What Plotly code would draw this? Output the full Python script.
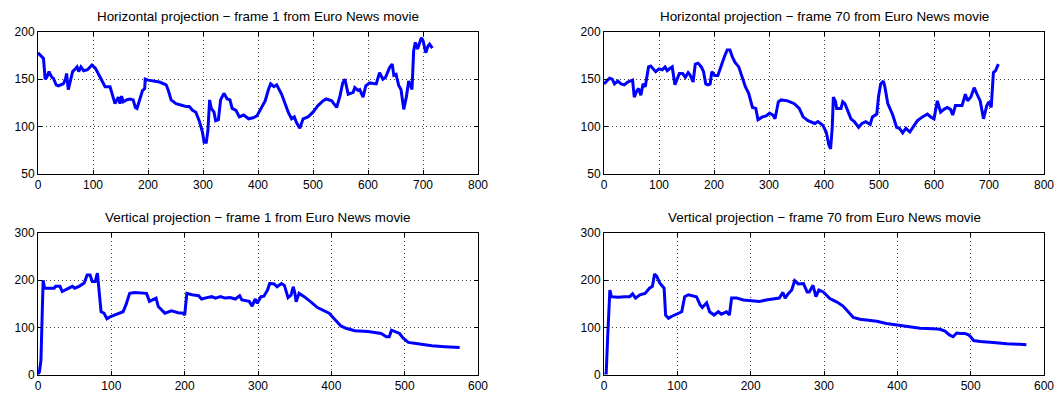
import plotly.graph_objects as go

# Horizontal projection, frame 1
h1_x = [0, 7, 10, 13, 16, 20, 25, 28, 33, 37, 46, 50, 52, 55, 59, 63, 68, 71, 74, 78, 83, 90, 98, 104, 113, 119, 122, 131, 134, 140, 146, 149, 152, 155, 161, 167, 173, 177, 180, 185, 190, 194, 195, 200, 221, 233, 237, 242, 251, 269, 275, 281, 287, 293, 299, 302, 306, 309, 312, 315, 320, 323, 328, 332, 338, 344, 349, 353, 360, 366, 374, 383, 391, 398, 407, 413, 419, 423, 429, 434, 443, 449, 455, 461, 466, 470, 476, 482, 491, 500, 509, 518, 524, 534, 543, 549, 554, 558, 564, 573, 576, 582, 585, 591, 596, 603, 615, 621, 627, 632, 636, 639, 644, 647, 651, 656, 660, 665, 670, 674, 680, 683, 686, 690, 697, 700, 705, 709, 712, 717]
h1_y = [178, 173.5, 172, 150, 152, 158, 152, 151, 144, 143, 145, 150, 156, 139, 149, 158, 161, 163, 158, 163, 159, 160, 165, 162, 152, 145, 142, 142, 135, 124, 131, 124, 132, 126, 128, 129, 128, 120, 119, 128, 138, 140, 150, 149, 147, 144, 138, 128, 124, 121, 121, 117, 115, 106, 94, 83, 83, 96, 128, 119, 115, 106, 107, 128, 135, 129, 128, 119, 117, 110, 112, 108, 109, 111, 120, 127, 139, 145, 142, 144, 134, 124, 115, 108, 110, 104, 98, 108, 110, 115, 122, 127, 129, 127, 120, 132, 146, 150, 134, 136, 141, 138, 139, 131, 143, 146, 145, 157, 150, 152, 159, 162, 166, 154, 155, 143, 139, 118, 132, 148, 139, 180, 189, 182, 194, 191, 178, 185, 187, 183]

# Horizontal projection, frame 70
h70_x = [0, 4, 10, 15, 19, 25, 31, 37, 43, 52, 55, 60, 63, 67, 71, 75, 77, 81, 85, 91, 94, 100, 106, 111, 115, 119, 124, 129, 133, 137, 143, 148, 153, 157, 162, 166, 171, 177, 181, 185, 189, 193, 196, 201, 207, 213, 219, 224, 229, 233, 238, 245, 251, 257, 263, 270, 276, 280, 288, 295, 301, 307, 311, 317, 322, 334, 346, 355, 362, 371, 383, 389, 398, 404, 409, 412, 415, 417, 421, 423, 431, 434, 438, 443, 449, 455, 463, 469, 476, 484, 488, 496, 499, 503, 508, 511, 516, 525, 532, 537, 543, 549, 556, 564, 570, 579, 588, 594, 600, 606, 612, 618, 624, 630, 634, 639, 651, 657, 661, 667, 673, 679, 684, 690, 696, 700, 704, 708, 712, 717]
h70_y = [145, 147, 151, 150, 145, 148, 145, 144, 147, 149, 131, 138, 140, 133, 145, 142, 151, 163, 164, 160, 158, 161, 160, 163, 159, 161, 163, 144, 151, 156, 156, 152, 157, 154, 147, 166, 167, 163, 158, 145, 144, 145, 158, 154, 154, 165, 174, 181, 181, 174, 168, 163, 152, 142, 135, 120, 119, 107, 110, 111, 114, 112, 108, 126, 128, 127, 124, 119, 110, 106, 103, 105, 101, 94, 80, 76, 99, 131, 126, 119, 119, 126, 124, 117, 108, 105, 99, 103, 105, 102, 110, 113, 131, 145, 148, 141, 124, 112, 99, 98, 93, 98, 94, 101, 106, 110, 113, 110, 108, 127, 115, 118, 120, 118, 112, 122, 122, 134, 127, 131, 141, 133, 127, 108, 122, 126, 120, 157, 159, 166]

# Vertical projection, frame 1
v1_x = [0, 2, 4, 6, 7, 9, 22, 24, 30, 33, 38, 42, 47, 50, 56, 63, 67, 71, 74, 78, 81, 83, 86, 90, 94, 99, 104, 111, 116, 120, 125, 132, 148, 152, 157, 161, 164, 168, 173, 182, 191, 198, 200, 203, 210, 219, 223, 233, 237, 242, 249, 255, 262, 269, 275, 278, 288, 292, 296, 299, 304, 308, 313, 316, 322, 326, 332, 336, 341, 345, 348, 350, 352, 356, 363, 372, 381, 397, 404, 413, 420, 432, 450, 468, 475, 479, 482, 486, 493, 498, 505, 518, 537, 555, 575]
v1_y = [0, 6, 30, 116, 200, 183, 183, 187, 187, 176, 179, 183, 187, 183, 187, 194, 211, 211, 197, 197, 215, 183, 133, 130, 118, 123, 126, 130, 133, 148, 172, 174, 172, 155, 158, 162, 144, 138, 130, 135, 131, 130, 126, 172, 169, 167, 160, 164, 165, 162, 165, 162, 163, 160, 167, 158, 155, 145, 160, 151, 165, 166, 179, 193, 192, 186, 193, 189, 163, 168, 186, 175, 154, 172, 165, 154, 142, 130, 119, 103, 98, 93, 91, 87, 80, 80, 94, 91, 87, 77, 68, 65, 61, 59, 57]

# Vertical projection, frame 70
v70_x = [1, 3, 5, 8, 10, 19, 28, 35, 39, 43, 49, 56, 62, 66, 69, 72, 76, 80, 82, 84, 88, 92, 97, 106, 110, 115, 126, 131, 134, 140, 144, 150, 156, 160, 167, 171, 174, 181, 190, 199, 212, 221, 230, 239, 244, 247, 251, 256, 260, 265, 272, 277, 280, 285, 289, 293, 299, 308, 317, 326, 333, 340, 349, 358, 372, 385, 403, 422, 431, 449, 458, 465, 471, 476, 481, 486, 492, 497, 500, 504, 513, 531, 549, 567, 576]
v70_y = [0, 2, 80, 179, 165, 164, 165, 165, 171, 162, 169, 172, 183, 187, 213, 208, 194, 187, 183, 126, 119, 123, 126, 133, 165, 169, 165, 148, 142, 152, 133, 126, 133, 128, 133, 126, 162, 162, 158, 157, 155, 158, 160, 162, 174, 162, 171, 179, 199, 192, 193, 175, 175, 189, 165, 179, 175, 161, 154, 145, 133, 121, 117, 115, 113, 108, 104, 101, 98, 97, 96, 92, 84, 80, 88, 87, 87, 84, 80, 72, 70, 68, 65, 64, 63]

titles = [
    "Horizontal projection − frame 1 from Euro News movie",
    "Horizontal projection − frame 70 from Euro News movie",
    "Vertical projection − frame 1 from Euro News movie",
    "Vertical projection − frame 70 from Euro News movie",
]

W, H = 1061, 394
xdom_l = [38 / W, 478 / W]
xdom_r = [604 / W, 1044 / W]
ydom_t = [1 - 173.5 / H, 1 - 32 / H]
ydom_b = [1 - 374.5 / H, 1 - 233 / H]

fig = go.Figure()
series = [(h1_x, h1_y), (h70_x, h70_y), (v1_x, v1_y), (v70_x, v70_y)]
for i, (xs, ys) in enumerate(series):
    sfx = "" if i == 0 else str(i + 1)
    fig.add_trace(go.Scatter(x=xs, y=ys, mode="lines", xaxis="x" + sfx, yaxis="y" + sfx,
                             line=dict(color="#0000FF", width=3), showlegend=False,
                             hoverinfo="skip"))

font = dict(family="Liberation Sans, Arial, Helvetica, sans-serif", size=12, color="black")

def ax(domain, rng, dtick, anchor):
    return dict(domain=domain, range=rng, dtick=dtick, tick0=0, anchor=anchor,
                showline=True, linecolor="black", linewidth=1, mirror="ticks",
                ticks="inside", ticklen=4, tickcolor="black", automargin=False,
                showgrid=True, gridcolor="#404040", griddash="1px,3px", gridwidth=1,
                zeroline=False, tickfont=font, fixedrange=True)

layout = dict(
    width=W, height=H, margin=dict(l=0, r=0, t=0, b=0),
    paper_bgcolor="white", plot_bgcolor="white", font=font,
    xaxis=ax(xdom_l, [0, 800], 100, "y"),
    yaxis=ax(ydom_t, [50, 200], 50, "x"),
    xaxis2=ax(xdom_r, [0, 800], 100, "y2"),
    yaxis2=ax(ydom_t, [50, 200], 50, "x2"),
    xaxis3=ax(xdom_l, [0, 600], 100, "y3"),
    yaxis3=ax(ydom_b, [0, 300], 100, "x3"),
    xaxis4=ax(xdom_r, [0, 600], 100, "y4"),
    yaxis4=ax(ydom_b, [0, 300], 100, "x4"),
)
fig.update_layout(**layout)

ann = []
centers = [(sum(xdom_l) / 2, 1 - 17 / H), (sum(xdom_r) / 2, 1 - 17 / H),
           (sum(xdom_l) / 2, 1 - 217 / H), (sum(xdom_r) / 2, 1 - 217 / H)]
for t, (cx, cy) in zip(titles, centers):
    ann.append(dict(text=t, x=cx, y=cy, xref="paper", yref="paper", showarrow=False,
                    xanchor="center", yanchor="middle",
                    font=dict(family="Liberation Sans, Arial, sans-serif", size=13.4, color="black")))
fig.update_layout(annotations=ann)

fig.write_html("out.html")
